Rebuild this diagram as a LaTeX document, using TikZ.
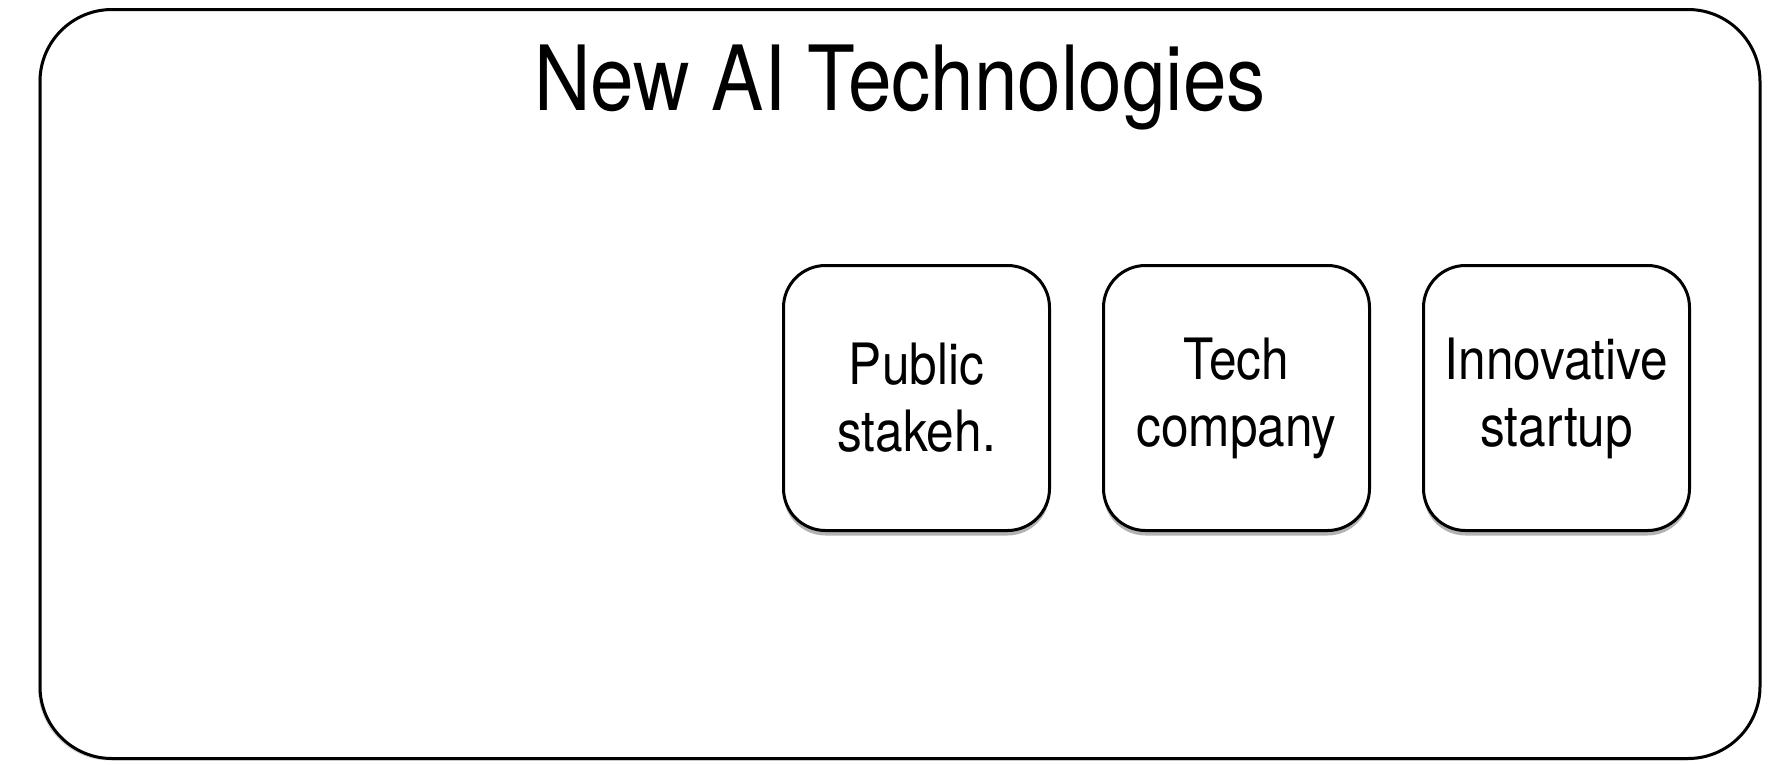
\documentclass[tikz,border=0pt]{standalone}
\usepackage{fontspec}
\setmainfont{TeX Gyre Heros}[FakeStretch=0.87]
\usetikzlibrary{shadows}
\tikzset{
  outerbox/.style={draw=black, line width=3pt, fill=white, rounded corners=72pt,
    minimum width=1720pt, minimum height=749pt, inner sep=0pt,
    drop shadow={shadow xshift=-2pt, shadow yshift=-2pt, opacity=0.15, fill=black}},
  actor/.style={draw=black, line width=3pt, fill=white, rounded corners=42pt,
    minimum width=266pt, minimum height=265pt, inner sep=0pt, align=center,
    font=\fontsize{57}{67}\selectfont,
    drop shadow={shadow xshift=0pt, shadow yshift=-5pt, opacity=0.3, fill=black}},
  titletext/.style={font=\fontsize{90}{100}\selectfont, inner sep=0pt, anchor=base}
}
\begin{document}
\begin{tikzpicture}[x=1pt,y=1pt]
\useasboundingbox (0,0) rectangle (1792,-764);
\node[outerbox] (frame) at (900,-384) {};
\node[titletext] (title) at (900,-110) {New AI Technologies};
\node[actor] (public) at (916.5,-398) {Public\\stakeh.};
\node[actor] (tech) at (1236.5,-398) {Tech\\company};
\node[actor] (startup) at (1556.5,-398) {Innovative\\startup};
\end{tikzpicture}
\end{document}
